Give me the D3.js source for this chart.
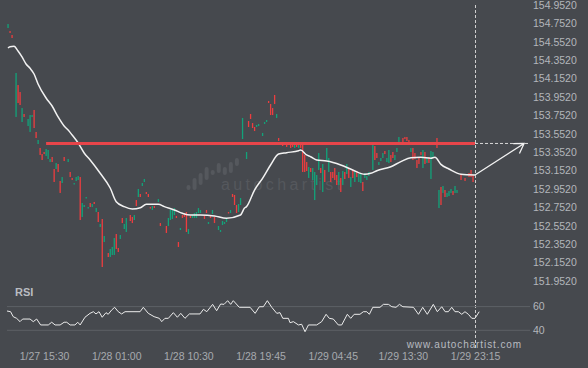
<!DOCTYPE html>
<html>
<head>
<meta charset="utf-8">
<script src="https://cdn.jsdelivr.net/npm/d3@7"></script>
<style>
html, body { margin: 0; padding: 0; background: #46494e; }
svg { display: block; font-family: "Liberation Sans", Arial, sans-serif; }
</style>
</head>
<body>
<div id="chart"></div>
<script>
// candles: [index, open, close]
var candles = [
  [0,154.702,154.745],[1,154.669,154.648],[2,154.626,154.593],[4,153.735,154.213],[5,154.082,153.887],
  [6,154.006,153.865],[7,153.680,153.832],[8,153.767,153.735],[10,153.637,153.713],[11,153.572,153.756],
  [12,153.735,153.756],[13,153.811,153.615],[14,153.572,153.506],[15,153.441,153.485],[16,153.398,153.322],
  [17,153.332,153.267],[18,153.354,153.332],[19,153.311,153.387],[20,153.278,153.376],[21,153.245,153.278],
  [22,153.300,153.245],[23,153.169,153.028],[24,153.169,153.235],[25,153.224,153.137],[26,153.039,152.909],
  [27,153.017,153.082],[28,153.300,153.256],[30,153.245,153.278],[31,153.137,153.082],[32,153.072,153.050],
  [33,153.006,153.017],[34,153.039,153.082],[35,153.050,153.093],[36,153.082,152.615],[37,152.648,152.800],
  [38,152.756,152.778],[39,152.854,152.865],[40,152.745,152.756],[41,152.800,152.756],[42,152.756,152.789],
  [43,152.811,152.789],[44,152.702,152.745],[45,152.702,152.593],[46,152.539,152.572],[47,152.626,152.104],
  [48,152.376,152.441],[50,152.256,152.213],[51,152.213,152.300],[52,152.235,152.322],[53,152.235,152.419],
  [54,152.463,152.300],[55,152.311,152.267],[56,152.409,152.452],[57,152.637,152.582],[58,152.517,152.572],
  [59,152.485,152.637],[61,152.669,152.604],[62,152.648,152.582],[63,152.615,152.669],[64,152.832,152.767],
  [65,152.865,152.952],[66,152.898,152.865],[67,152.985,153.017],[68,153.028,153.061],[69,152.919,152.898],
  [70,152.898,152.865],[71,152.756,152.745],[72,152.724,152.767],[73,152.767,152.745],[75,152.811,152.843],
  [76,152.582,152.550],[79,152.550,152.474],[80,152.550,152.637],[81,152.615,152.724],[82,152.626,152.735],
  [83,152.669,152.745],[84,152.659,152.637],[85,152.376,152.322],[86,152.506,152.528],[87,152.669,152.637],
  [88,152.691,152.648],[89,152.702,152.485],[90,152.463,152.517],[91,152.659,152.637],[92,152.637,152.669],
  [93,152.637,152.691],[94,152.637,152.702],[95,152.691,152.745],[96,152.691,152.724],[98,152.659,152.626],
  [99,152.724,152.691],[100,152.572,152.593],[101,152.659,152.637],[102,152.680,152.724],[103,152.648,152.582],
  [105,152.506,152.550],[106,152.485,152.506],[107,152.561,152.604],[108,152.572,152.593],[109,152.593,152.626],
  [110,152.702,152.691],[111,152.691,152.724],[112,152.898,152.865],[113,152.887,152.778],[114,152.778,152.691],
  [115,152.702,152.789],[116,152.778,152.854],[117,153.495,153.724],[119,153.278,153.354],[120,153.691,153.626],
  [121,153.767,153.713],[122,153.669,153.615],[123,153.626,153.582],[124,153.626,153.648],[125,153.637,153.659],
  [127,153.528,153.561],[128,153.659,153.680],[129,153.680,153.702],[130,153.909,153.887],[131,153.876,153.756],
  [132,153.832,153.756],[133,153.974,153.876],[134,153.724,153.767],[135,153.506,153.474],[137,153.441,153.419],
  [139,153.463,153.409],[140,153.463,153.441],[141,153.452,153.398],[142,153.452,153.409],[143,153.398,153.441],
  [144,153.452,153.409],[145,153.398,153.430],[146,153.441,153.398],[147,153.452,153.137],[148,153.322,153.137],
  [149,153.245,153.148],[150,153.072,153.191],[151,153.180,153.137],[152,153.050,153.180],[153,152.832,153.137],
  [154,152.995,153.104],[155,153.159,153.343],[156,153.180,153.126],[157,152.919,153.224],[158,153.159,153.028],
  [159,153.267,153.398],[160,153.137,153.289],[161,153.137,153.028],[162,153.137,153.072],[163,153.180,153.050],
  [164,153.104,152.995],[165,152.995,153.137],[166,153.072,152.919],[167,152.995,153.148],[168,153.137,153.061],
  [169,153.115,153.224],[170,153.180,153.072],[171,152.974,153.082],[172,153.159,153.072],[173,153.028,153.137],
  [174,153.148,153.082],[175,153.028,153.115],[176,153.017,153.126],[177,153.028,152.930],[178,153.072,153.126],
  [179,153.050,153.093],[180,153.093,153.137],[182,153.159,153.430],[183,153.419,153.267],[184,153.343,153.289],
  [185,153.213,153.245],[186,153.256,153.289],[187,153.289,153.343],[188,153.365,153.332],[189,153.245,153.289],
  [190,153.235,153.376],[191,153.322,153.245],[192,153.354,153.289],[193,153.267,153.322],[194,153.354,153.398],
  [195,153.452,153.517],[197,153.506,153.463],[198,153.517,153.495],[199,153.517,153.474],[200,153.485,153.452],
  [201,153.354,153.398],[202,153.398,153.267],[203,153.343,153.278],[204,153.267,153.180],[205,153.289,153.224],
  [206,153.354,153.322],[207,153.180,153.376],[208,153.354,153.224],[209,153.235,153.289],[210,153.300,153.235],
  [211,153.061,153.365],[212,153.289,153.354],[214,153.506,153.398],[215,152.745,152.941],[216,152.974,152.778],
  [217,152.909,152.985],[218,152.941,152.865],[219,152.865,152.909],[220,152.876,152.930],[221,152.909,152.952],
  [222,152.930,152.887],[223,152.909,152.985],[224,152.909,152.941],[226,153.104,153.050],[228,153.072,153.039],
  [230,153.126,153.082],[231,153.159,153.082],[232,153.104,153.028]
];

// moving average (index, price)
var maIdx = [0,1,3,5,7,9,11,13,15,19,22,25,28,30,32,35,38,41,46,51,54,58,62,66,69,75,78,83,87,91,96,103,109,116,118,119,
  123,127,131,135,139,145,146,149,151,154,159,166,172,178,181,184,191,196,201,206,211,213,216,220,226,233];
var maVal = [154.485,154.499,154.503,154.452,154.387,154.311,154.264,154.202,154.093,153.941,153.854,153.735,153.637,153.593,
  153.539,153.452,153.343,153.267,153.123,152.963,152.814,152.760,152.735,152.749,152.786,152.786,152.760,152.724,152.688,
  152.669,152.669,152.659,152.634,152.669,152.745,152.760,152.941,153.068,153.213,153.332,153.347,153.368,153.376,153.322,
  153.303,153.267,153.256,153.213,153.159,153.112,153.123,153.151,153.194,153.249,153.292,153.296,153.286,153.296,153.220,
  153.169,153.112,153.104];

// RSI (index, value)
var rsiIdx = [-0.5,1.3,2.6,4.3,6,7.3,11,12.6,14.3,16.3,20.1,21.8,23.5,26,28,29.3,31,33.4,34.8,36,38.4,40.9,42.6,43.9,45.4,47,
  48.9,50,51.7,53.2,55,56.7,58.4,65.9,67.5,70,72.9,75.5,76.7,78.3,80,82.5,84.5,86.2,88.3,90.5,95.8,97.5,99.2,102.1,104.1,
  106.1,107.8,109.6,111.1,112.4,115.4,120.8,123.3,125.4,127.4,129.4,131.6,134.1,135.7,137.1,139.9,140.7,142.4,144.9,146.5,
  148.2,149.9,154,156.5,158.7,160.3,162.3,164.8,166.5,169.3,171,172.7,175.6,177.3,179,180.3,182,185.6,187.3,189.8,191.5,
  193.6,195.3,197,202.3,204.8,206.9,209.2,212.2,214.2,216.4,218.1,219.7,221.4,223,224.7,226.4,228,229.7,231.4,233,235.1];
var rsiVal = [56.3,55.7,51.5,50.1,47.3,49.5,49.5,47.3,49.5,44.5,44.5,46.8,44.5,44.5,46.8,46.8,44.5,44.5,46.8,44.5,51,54.3,55.7,
  53.8,55.7,51,54.9,53.5,57.1,59.4,55.7,53.8,55.7,55.7,59.4,54.3,51.5,50.1,47.3,50.1,50.1,54.9,51,54.3,50.1,53.8,53.8,57.7,
  55.7,61.9,56.5,62.2,61.9,65,61.9,65,59.4,59.4,54.3,59.9,59.9,65,59.4,54.3,54.9,50.1,50.1,46.4,47.3,44.5,45.1,38.8,44.5,
  44.5,47.3,53.5,50.1,49.5,44.5,44.5,53.5,50.1,53.5,53.5,55.7,55.7,53.5,59.4,59.4,61.9,61.9,59.9,59.4,61.9,59.9,59.4,53.5,
  59.4,53.5,61.9,55.7,59.9,55.7,55.7,59.4,55.7,55.7,53.5,55.7,53.5,50.1,50.1,55.7];

var priceTicks = d3.range(16).map(k => +(151.952 + k * 0.2).toFixed(3));
var rsiTicks = [40, 60];
var timeIdx = [18, 54, 90, 126, 162, 197, 233];
var timeLabels = ["1/27 15:30", "1/28 01:00", "1/28 10:30", "1/28 19:45", "1/29 04:45", "1/29 13:30", "1/29 23:15"];

var resistance = 153.447;
var resistanceStart = 19;
var lastIdx = 233;
var targetIdx = 257.5;

// watermark logo bars: [top, bottom] in logo units
var logoBars = [[5,0],[12,0],[17,5],[23,10],[20,15],[27,17],[23,15],[28,17],[32,24]];

const width = 588, height = 368;
const bg = "#46494e";
const green = "#12a37a", red = "#ee3d3f";

const x = d3.scaleLinear().domain([0, lastIdx]).range([8, 475]);
const y = d3.scaleLinear().domain([151.952, 154.952]).range([281, 5]);
const yr = d3.scaleLinear().domain([40, 60]).range([330.3, 306.6]);

const svg = d3.select("#chart").append("svg")
    .attr("width", width)
    .attr("height", height);

svg.append("rect").attr("width", width).attr("height", height).attr("fill", bg);

// watermark
const wm = svg.append("g").attr("fill", "#55585d");
wm.selectAll("rect")
  .data(logoBars)
  .join("rect")
    .attr("x", (d, i) => 186.5 + i * 6.05)
    .attr("y", d => 190 - d[0])
    .attr("width", 4)
    .attr("height", d => Math.max(3, d[0] - d[1]))
    .attr("rx", 2);
wm.append("text")
    .attr("x", 221)
    .attr("y", 190)
    .attr("font-size", 16)
    .attr("letter-spacing", 3.4)
    .text("autochartist");

// price axis
const yAxis = svg.append("g")
    .attr("transform", "translate(528,0)")
    .call(d3.axisRight(y).tickValues(priceTicks).tickFormat(d3.format(".4f")).tickSize(0).tickPadding(5));
yAxis.select(".domain").remove();
yAxis.selectAll("text").attr("fill", "#b3b6bb").attr("font-size", 10.5);

// candles
svg.append("g")
  .selectAll("rect")
  .data(candles)
  .join("rect")
    .attr("x", d => x(d[0]) - 0.6)
    .attr("y", d => y(Math.max(d[1], d[2])))
    .attr("width", 1.3)
    .attr("height", d => Math.max(1.5, Math.abs(y(d[1]) - y(d[2]))))
    .attr("fill", d => d[2] >= d[1] ? green : red);

// moving average
const maLine = d3.line().x((d, i) => x(maIdx[i])).y(d => y(d)).curve(d3.curveMonotoneX);
svg.append("path")
    .attr("d", maLine(maVal))
    .attr("fill", "none")
    .attr("stroke", "#f2f2f2")
    .attr("stroke-width", 1.5);

// resistance line
svg.append("line")
    .attr("x1", x(resistanceStart)).attr("x2", x(lastIdx))
    .attr("y1", y(resistance)).attr("y2", y(resistance))
    .attr("stroke", "#e8454a")
    .attr("stroke-width", 3);
svg.append("line")
    .attr("x1", x(lastIdx)).attr("x2", 530)
    .attr("y1", y(resistance)).attr("y2", y(resistance))
    .attr("stroke", "#d8d8d8")
    .attr("stroke-dasharray", "3,2");

// vertical dashed line at last bar
svg.append("line")
    .attr("x1", x(lastIdx) + 0.5).attr("x2", x(lastIdx) + 0.5)
    .attr("y1", 5).attr("y2", 348)
    .attr("stroke", "#cfcfcf")
    .attr("stroke-dasharray", "3,2");

// forecast arrow
const ax0 = x(lastIdx), ay0 = y(maVal[maVal.length - 1]);
const ax1 = x(targetIdx), ay1 = y(resistance);
const ang = Math.atan2(ay1 - ay0, ax1 - ax0);
const headLen = 11, spread = 0.56;
svg.append("path")
    .attr("d", `M${ax0},${ay0}L${ax1},${ay1}` +
      `M${ax1 - headLen * Math.cos(ang - spread)},${ay1 - headLen * Math.sin(ang - spread)}L${ax1},${ay1}` +
      `L${ax1 - headLen * Math.cos(ang + spread)},${ay1 - headLen * Math.sin(ang + spread)}`)
    .attr("fill", "none")
    .attr("stroke", "#f2f2f2")
    .attr("stroke-width", 1.3);

// RSI panel
svg.append("text")
    .attr("x", 15).attr("y", 296)
    .attr("font-size", 11)
    .attr("font-weight", "bold")
    .attr("fill", "#b9bcc1")
    .text("RSI");

svg.append("g")
  .selectAll("line")
  .data(rsiTicks)
  .join("line")
    .attr("x1", 7).attr("x2", 530)
    .attr("y1", d => yr(d)).attr("y2", d => yr(d))
    .attr("stroke", "#5d6166");

const rAxis = svg.append("g")
    .attr("transform", "translate(528,0)")
    .call(d3.axisRight(yr).tickValues(rsiTicks).tickSize(0).tickPadding(5));
rAxis.select(".domain").remove();
rAxis.selectAll("text").attr("fill", "#b3b6bb").attr("font-size", 10.5);

const rsiLine = d3.line().x((d, i) => x(rsiIdx[i])).y(d => yr(d));
svg.append("path")
    .attr("d", rsiLine(rsiVal))
    .attr("fill", "none")
    .attr("stroke", "#ececec")
    .attr("stroke-width", 1);

// time axis
const xAxis = svg.append("g")
    .attr("transform", "translate(0,353)")
    .call(d3.axisBottom(x).tickValues(timeIdx).tickFormat((d, i) => timeLabels[i]).tickSize(0).tickPadding(0));
xAxis.select(".domain").remove();
xAxis.selectAll("text").attr("fill", "#a7aaaf").attr("font-size", 10.5);

svg.append("text")
    .attr("x", 522).attr("y", 347.5)
    .attr("text-anchor", "end")
    .attr("font-size", 10)
    .attr("letter-spacing", 0.9)
    .attr("fill", "#b8bbc0")
    .text("www.autochartist.com");
</script>
</body>
</html>
